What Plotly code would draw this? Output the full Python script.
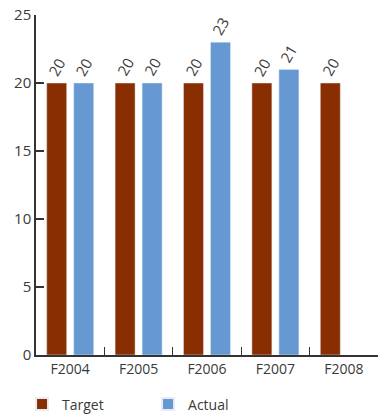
import plotly.graph_objects as go

years = ["F2004", "F2005", "F2006", "F2007", "F2008"]
target = [20, 20, 20, 20, 20]
actual = [20, 20, 23, 21, None]

TARGET_COLOR = "#892E00"
ACTUAL_COLOR = "#6699D2"
TEXT_COLOR = "#3a3a3a"
FONT = "Open Sans, Noto Sans, sans-serif"

fig = go.Figure()
for name, vals, color, offset in [("Target", target, TARGET_COLOR, -1), ("Actual", actual, ACTUAL_COLOR, 1)]:
    fig.add_trace(go.Bar(
        name=name, x=years, y=vals, marker_color=color,
    ))
    # rotated value labels sitting just above each bar
    for yr, v in zip(years, vals):
        if v is None:
            continue
        fig.add_annotation(
            x=yr, y=v, xref="x", yref="y", text=str(v), showarrow=False,
            textangle=-60, xshift=offset * 13.5, yshift=16,
            font=dict(size=15, color=TEXT_COLOR, family=FONT),
        )

fig.update_layout(
    width=380, height=417,
    margin=dict(l=36, r=2, t=15, b=62, autoexpand=False),
    paper_bgcolor="white", plot_bgcolor="white",
    barmode="group", bargap=0.21, bargroupgap=0.26,
    font=dict(family=FONT, color=TEXT_COLOR),
    showlegend=True,
    legend=dict(
        orientation="h", x=0.058, xref="container", xanchor="left",
        y=0.03, yref="container", yanchor="middle",
        entrywidth=81, entrywidthmode="pixels",
        font=dict(size=14, color=TEXT_COLOR, family=FONT),
        itemsizing="constant",
    ),
)
fig.update_yaxes(
    range=[0, 25], dtick=5, showgrid=False, zeroline=False,
    showline=True, linecolor="#333333", linewidth=1.5,
    ticks="inside", ticklen=8, tickcolor="#333333", tickwidth=1.5,
    tickfont=dict(size=15, color=TEXT_COLOR, family=FONT),
)
fig.update_xaxes(
    showgrid=False, showline=True, linecolor="#333333", linewidth=1.5,
    ticks="inside", ticklen=8, tickcolor="#333333", tickwidth=1.2,
    tickson="boundaries",
    tickfont=dict(size=14, color=TEXT_COLOR, family=FONT),
)

fig.write_html("out.html")
